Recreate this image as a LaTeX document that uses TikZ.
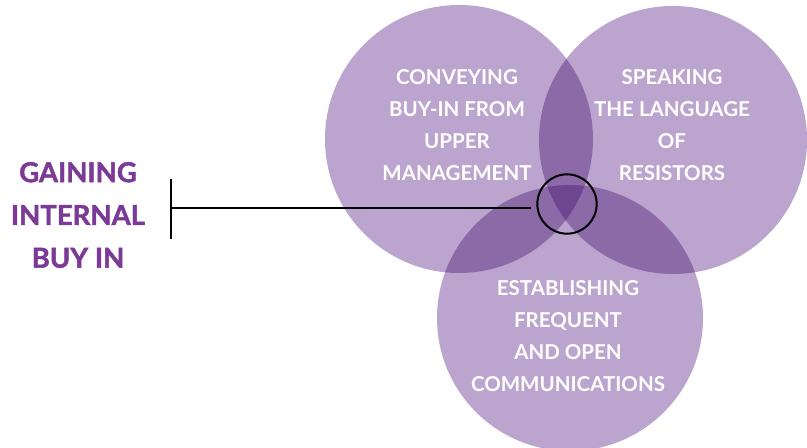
\documentclass[tikz,border=0pt]{standalone}
\usepackage{fontspec}
\setsansfont{Lato}
\newfontfamily\goalfont{Lato}[BoldFeatures={FakeBold=1.6}]
\usepackage{tikz}
\usetikzlibrary{positioning}
\definecolor{venn}{RGB}{187,164,206}
\definecolor{vennpair}{RGB}{140,106,167}
\definecolor{venncore}{RGB}{110,70,144}
\definecolor{gainpurple}{RGB}{123,58,150}
\tikzset{
  petaltext/.style={text=white, align=center, inner sep=0pt,
    font=\sffamily\bfseries\fontsize{17.5}{27.2}\selectfont},
  goaltext/.style={text=gainpurple, align=center, inner sep=0pt,
    font=\goalfont\bfseries\fontsize{23.5}{36.5}\selectfont},
  hubring/.style={draw=black, line width=1.7pt, circle,
    minimum size=1.78cm, inner sep=0pt},
  lead/.style={draw=black, line width=1.7pt},
}

\begin{document}
\begin{tikzpicture}[x=0.03cm, y=-0.03cm]
  \useasboundingbox (0,0) rectangle (807,448);

  % circle centres
  \coordinate (cconv) at (459,139);
  \coordinate (cspeak) at (673,140);
  \coordinate (cestab) at (570,318);

  % the three circles
  \fill[venn] (cconv) circle[radius=134];
  \fill[venn] (cspeak) circle[radius=134];
  \fill[venn] (cestab) circle[radius=133];

  % pairwise overlaps
  \begin{scope}
    \clip (cconv) circle[radius=134];
    \fill[vennpair] (cspeak) circle[radius=134];
    \fill[vennpair] (cestab) circle[radius=133];
  \end{scope}
  \begin{scope}
    \clip (cspeak) circle[radius=134];
    \fill[vennpair] (cestab) circle[radius=133];
  \end{scope}

  % centre where all three meet
  \begin{scope}
    \clip (cconv) circle[radius=134];
    \clip (cspeak) circle[radius=134];
    \fill[venncore] (cestab) circle[radius=133];
  \end{scope}

  % circle texts
  \node[petaltext] (conveying) at (457,125)
    {CONVEYING\\BUY-IN FROM\\UPPER\\MANAGEMENT};
  \node[petaltext] (speaking) at (672,125)
    {SPEAKING\\THE LANGUAGE\\OF\\RESISTORS};
  \node[petaltext] (establishing) at (568,336)
    {ESTABLISHING\\FREQUENT\\AND OPEN\\COMMUNICATIONS};

  % pointer to the middle
  \node[hubring] (hub) at (567,204) {};
  \coordinate (bartop) at (171,179);
  \coordinate (barbot) at (171,239);
  \coordinate (barmid) at (171,208);
  \draw[lead] (bartop) -- (barbot);
  \draw[lead, shorten >=0.15cm] (barmid) -- (barmid -| hub.west);

  \node[goaltext] (gaining) at (78,215) {GAINING\\INTERNAL\\BUY IN};
\end{tikzpicture}
\end{document}
